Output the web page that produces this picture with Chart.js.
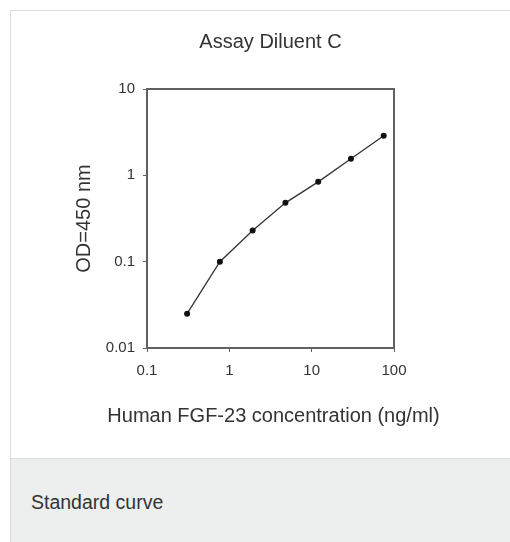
<!DOCTYPE html>
<html>
<head>
<meta charset="utf-8">
<script src="https://cdn.jsdelivr.net/npm/chart.js@4.4.1/dist/chart.umd.min.js"></script>
<style>
  body { margin: 0; background: #fff; font-family: "Liberation Sans", Arial, sans-serif; }
  #panel { position: absolute; left: 10px; top: 10px; width: 500px; height: 447px; border-top: 1px solid #dcdcdc; border-left: 1px solid #dcdcdc; background: #fff; }
  #caption { position: absolute; left: 10px; top: 458px; width: 500px; height: 84px; background: #edeeee; border-top: 1px solid #dedede; box-sizing: border-box; border-left: 1px solid #dcdcdc; }
  #caption span { position: absolute; left: 20px; top: 32px; font-size: 19.5px; color: #333; }
  #chart { position: absolute; left: 0; top: 0; }
</style>
</head>
<body>
<div id="panel"></div>
<div id="caption"><span>Standard curve</span></div>
<canvas id="chart" width="510" height="542"></canvas>
<script>
// standard curve points (ng/ml vs OD)
const concentration = [0.307, 0.768, 1.92, 4.8, 12, 30, 75];
const od = [0.025, 0.1, 0.23, 0.48, 0.84, 1.56, 2.87];

const xTickValues = [0.1, 1, 10, 100];
const xTickLabels = ['0.1', '1', '10', '100'];
const yTickValues = [0.01, 0.1, 1, 10];
const yTickLabels = ['0.01', '0.1', '1', '10'];

const chartTitle = 'Assay Diluent C';
const xTitle = 'Human FGF-23 concentration (ng/ml)';
const yTitle = 'OD=450 nm';

const fontFamily = '"Liberation Sans", Arial, sans-serif';
const axisColor = '#606060';
const textColor = '#333';

const points = concentration.map((c, i) => ({ x: c, y: od[i] }));

// title and x title centred on the plot box, x title is wider than the plot
const plotTitles = {
  id: 'plotTitles',
  afterDraw(chart) {
    const { ctx, chartArea } = chart;
    const xCenter = (chartArea.left + chartArea.right) / 2;
    ctx.save();
    ctx.fillStyle = textColor;
    ctx.font = '20px ' + fontFamily;
    ctx.textAlign = 'center';
    ctx.textBaseline = 'middle';
    ctx.fillText(chartTitle, xCenter, chartArea.top - 47);
    ctx.fillText(xTitle, xCenter + 3, chartArea.bottom + 68);
    ctx.restore();
  }
};

const config = {
  type: 'scatter',
  data: {
    datasets: [{
      data: points,
      showLine: true,
      borderColor: '#333',
      borderWidth: 1.3,
      pointStyle: 'circle',
      pointRadius: 3,
      pointBackgroundColor: '#111',
      pointBorderColor: '#111',
      pointBorderWidth: 0,
    }]
  },
  options: {
    responsive: false,
    animation: false,
    devicePixelRatio: 1,
    layout: {
      padding: { left: 60, top: 89, right: 116, bottom: 94 }
    },
    plugins: {
      legend: { display: false },
      tooltip: { enabled: false },
      title: { display: false }
    },
    scales: {
      x: {
        type: 'logarithmic',
        position: 'bottom',
        min: 0.1,
        max: 100,
        afterBuildTicks: (scale) => { scale.ticks = xTickValues.map(v => ({ value: v })); },
        afterFit: (scale) => { scale.height = 100; },
        ticks: {
          color: textColor,
          font: { family: fontFamily, size: 15 },
          padding: 10,
          maxRotation: 0,
          autoSkip: false,
          callback: (value) => xTickLabels[xTickValues.indexOf(value)]
        },
        grid: { drawOnChartArea: false, color: axisColor, tickLength: 4, lineWidth: 1 },
        border: { color: axisColor, width: 2 }
      },
      y: {
        type: 'logarithmic',
        position: 'left',
        min: 0.01,
        max: 10,
        afterBuildTicks: (scale) => { scale.ticks = yTickValues.map(v => ({ value: v })); },
        afterFit: (scale) => { scale.width = 87; },
        ticks: {
          color: textColor,
          font: { family: fontFamily, size: 15 },
          padding: 8,
          autoSkip: false,
          callback: (value) => yTickLabels[yTickValues.indexOf(value)]
        },
        grid: { drawOnChartArea: false, color: axisColor, tickLength: 4, lineWidth: 1 },
        border: { color: axisColor, width: 2 },
        title: {
          display: true,
          text: yTitle,
          color: textColor,
          font: { family: fontFamily, size: 20, lineHeight: 1.2 },
          padding: { top: 12, bottom: 0 }
        }
      },
      // top and right frame lines
      x2: {
        type: 'linear',
        position: 'top',
        ticks: { display: false },
        grid: { display: false, drawTicks: false },
        border: { color: axisColor, width: 2 },
        afterFit: (scale) => { scale.height = 0; }
      },
      y2: {
        type: 'linear',
        position: 'right',
        ticks: { display: false },
        grid: { display: false, drawTicks: false },
        border: { color: axisColor, width: 2 },
        afterFit: (scale) => { scale.width = 0; }
      }
    }
  },
  plugins: [plotTitles]
};

new Chart(document.getElementById('chart').getContext('2d'), config);
</script>
</body>
</html>
